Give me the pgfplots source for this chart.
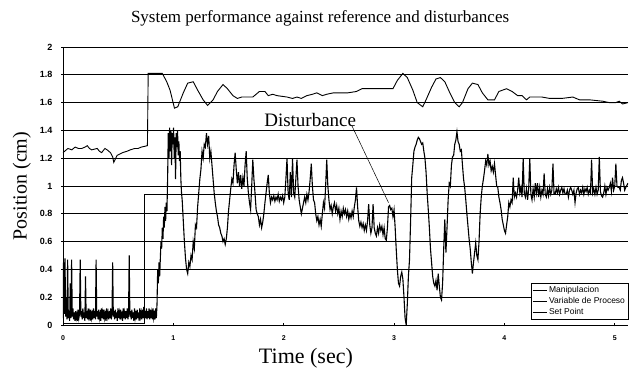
\documentclass[border=0pt]{standalone}
\usepackage{fontspec}
\setmainfont{Liberation Serif}
\newfontfamily\tickfont{Liberation Sans}
\usepackage{pgfplots}
\pgfplotsset{compat=1.18}
\begin{document}
\begin{tikzpicture}
\begin{axis}[
 name=ax,
 scale only axis,
 width=565pt, height=278pt,
 xmin=0, xmax=5.12, ymin=0, ymax=2,
 axis x line*=bottom, axis y line*=left,
 axis line style={black, line width=0.8pt, -},
 xtick={0,1,2,3,4,5},
 ytick={0,0.2,0.4,0.6,0.8,1,1.2,1.4,1.6,1.8,2},
 yticklabels={0,0.2,0.4,0.6,0.8,1,1.2,1.4,1.6,1.8,2},
 ymajorgrids,
 grid style={black, line width=0.8pt},
 tick style={black, line width=0.6pt},
 major tick length=3pt,
 tick align=center,
 /pgf/number format/assume math mode=true,
 yticklabel style={font=\tickfont\bfseries\fontsize{9}{10}\selectfont, inner sep=0pt, xshift=-9pt},
 xticklabel style={font=\tickfont\bfseries\fontsize{7}{8}\selectfont, inner sep=0pt, yshift=-9pt},
 title={System performance against reference and disturbances},
 title style={at={(axis description cs:0.455,1)}, anchor=base, yshift=18pt, font=\fontsize{17}{19}\selectfont},
 xlabel={Time (sec)},
 xlabel style={at={(axis description cs:0.43,0)}, anchor=base, yshift=-39pt, font=\fontsize{22}{24}\selectfont},
 ylabel={Position (cm)},
 ylabel style={at={(axis description cs:-0.073,0.5)}, anchor=center, font=\fontsize{20}{22}\selectfont},
 legend style={at={(rel axis cs:0.828,0.151)}, anchor=north west, draw=black, line width=0.5pt,
   font=\tickfont\fontsize{8.5}{9}\selectfont, inner sep=1pt, row sep=-0.5pt, fill=white},
 legend cell align=left,
 legend image code/.code={\draw[black, line width=1pt] (0pt,0pt) -- (14pt,0pt);},
]
% Manipulacion
\addplot[black, line width=0.9pt] coordinates {
(0.00,1.24) (0.045,1.27) (0.08,1.26) (0.11,1.28) (0.14,1.27) (0.17,1.27) (0.20,1.28) (0.22,1.29) (0.24,1.27) (0.26,1.26)
(0.31,1.27) (0.33,1.25) (0.35,1.24) (0.38,1.27) (0.40,1.26) (0.43,1.24) (0.45,1.21) (0.46,1.17) (0.49,1.22) (0.54,1.24)
(0.58,1.25) (0.61,1.26) (0.65,1.27) (0.68,1.27) (0.71,1.28) (0.765,1.29) (0.772,1.81) (0.85,1.81) (0.90,1.81)
(0.94,1.75) (0.97,1.69) (1.01,1.56) (1.04,1.57) (1.09,1.67) (1.13,1.74) (1.18,1.75) (1.22,1.69) (1.27,1.62)
(1.31,1.58) (1.36,1.62) (1.40,1.68) (1.45,1.73) (1.49,1.70) (1.54,1.65) (1.58,1.63) (1.62,1.64) (1.67,1.64)
(1.72,1.64) (1.78,1.68) (1.83,1.68) (1.86,1.65) (1.90,1.66) (1.94,1.65) (2.03,1.64) (2.08,1.63) (2.12,1.64) (2.16,1.63)
(2.21,1.65) (2.26,1.66) (2.30,1.67) (2.35,1.65) (2.39,1.66) (2.45,1.67) (2.51,1.67) (2.58,1.67) (2.66,1.68) (2.71,1.70)
(2.80,1.70) (2.87,1.70) (2.94,1.70) (2.99,1.70) (3.03,1.76) (3.08,1.81) (3.12,1.78) (3.17,1.69) (3.21,1.60)
(3.26,1.57) (3.29,1.62) (3.34,1.71) (3.38,1.77) (3.42,1.78) (3.46,1.75) (3.50,1.68) (3.55,1.60) (3.59,1.57)
(3.62,1.60) (3.67,1.70) (3.71,1.74) (3.76,1.73) (3.80,1.67) (3.85,1.62) (3.91,1.62) (3.95,1.68) (4.02,1.70)
(4.07,1.68) (4.12,1.65) (4.16,1.65) (4.20,1.62) (4.23,1.64) (4.29,1.64) (4.34,1.64) (4.41,1.63) (4.47,1.63)
(4.52,1.63) (4.62,1.64) (4.68,1.62) (4.77,1.62) (4.89,1.61) (4.95,1.60) (5.01,1.60) (5.04,1.61) (5.07,1.59) (5.12,1.60)
};
\addlegendentry{Manipulacion}
% Variable de Proceso
\addplot[black, line width=1.1pt] coordinates {
(0.000,0.05) (0.005,0.45) (0.012,0.08) (0.018,0.48) (0.024,0.06) (0.030,0.20) (0.036,0.04) (0.042,0.47)
(0.048,0.05) (0.055,0.10) (0.060,0.03) (0.066,0.30) (0.072,0.05) (0.078,0.47) (0.084,0.06) (0.090,0.12)
(0.096,0.04) (0.102,0.09) (0.108,0.03) (0.114,0.10) (0.120,0.05) (0.126,0.08) (0.132,0.03) (0.138,0.11)
(0.144,0.05) (0.150,0.08) (0.156,0.47) (0.162,0.06) (0.168,0.10) (0.174,0.04) (0.180,0.12) (0.186,0.05)
(0.192,0.09) (0.198,0.03) (0.204,0.35) (0.210,0.05) (0.216,0.10) (0.222,0.04) (0.228,0.12) (0.234,0.06)
(0.240,0.09) (0.246,0.03) (0.252,0.11) (0.258,0.05) (0.264,0.08) (0.270,0.04) (0.276,0.12) (0.282,0.05)
(0.288,0.10) (0.294,0.04) (0.300,0.47) (0.306,0.06) (0.312,0.10) (0.318,0.04) (0.324,0.11) (0.330,0.05)
(0.336,0.08) (0.342,0.03) (0.348,0.12) (0.354,0.05) (0.360,0.09) (0.366,0.04) (0.372,0.11) (0.378,0.05)
(0.384,0.08) (0.390,0.03) (0.396,0.12) (0.402,0.06) (0.408,0.09) (0.414,0.04) (0.420,0.10) (0.426,0.05)
(0.432,0.12) (0.438,0.04) (0.444,0.08) (0.450,0.45) (0.456,0.06) (0.462,0.10) (0.468,0.04) (0.474,0.11)
(0.480,0.05) (0.486,0.09) (0.492,0.03) (0.498,0.12) (0.504,0.05) (0.510,0.09) (0.516,0.04) (0.522,0.11)
(0.528,0.06) (0.534,0.08) (0.540,0.03) (0.546,0.12) (0.552,0.05) (0.558,0.09) (0.564,0.04) (0.570,0.10)
(0.576,0.05) (0.582,0.12) (0.588,0.04) (0.594,0.08) (0.600,0.50) (0.606,0.06) (0.612,0.10) (0.618,0.04)
(0.624,0.11) (0.630,0.05) (0.636,0.09) (0.642,0.03) (0.648,0.12) (0.654,0.05) (0.660,0.08) (0.666,0.04)
(0.672,0.11) (0.678,0.05) (0.684,0.09) (0.690,0.03) (0.696,0.12) (0.702,0.06) (0.708,0.09) (0.714,0.04)
(0.720,0.11) (0.726,0.05) (0.732,0.13) (0.738,0.04) (0.744,0.10) (0.750,0.05) (0.756,0.12) (0.762,0.04)
(0.768,0.10) (0.774,0.05) (0.780,0.12) (0.786,0.04) (0.792,0.11) (0.798,0.05) (0.804,0.09) (0.810,0.04)
(0.816,0.12) (0.822,0.05) (0.828,0.08) (0.834,0.04) (0.840,0.12) (0.846,0.05) (0.852,0.15) (0.858,0.40)
(0.864,0.30) (0.870,0.45) (0.876,0.35) (0.882,0.48) (0.888,0.60) (0.894,0.55) (0.900,0.70) (0.906,0.62)
(0.912,0.78) (0.918,0.70) (0.924,0.85) (0.930,0.75) (0.936,0.88) (0.942,0.82) (0.948,1.05) (0.954,1.38)
(0.960,1.20) (0.966,1.42) (0.972,1.25) (0.978,1.40) (0.984,1.15) (0.990,1.38) (0.996,1.30) (1.002,1.42)
(1.008,1.20) (1.014,1.35) (1.020,1.05) (1.026,1.38) (1.032,1.28) (1.038,1.40) (1.044,1.22) (1.050,1.32)
(1.056,1.18) (1.062,1.25) (1.068,1.05) (1.074,0.95) (1.080,0.90) (1.090,0.75) (1.100,0.60) (1.110,0.48)
(1.120,0.40) (1.130,0.37) (1.140,0.45) (1.150,0.42) (1.160,0.50) (1.170,0.47) (1.180,0.60) (1.190,0.55)
(1.200,0.72) (1.210,0.70) (1.220,0.85) (1.230,0.95) (1.240,1.05) (1.250,1.12) (1.260,1.25) (1.270,1.20)
(1.280,1.30) (1.290,1.28) (1.300,1.38) (1.310,1.30) (1.320,1.36) (1.330,1.20) (1.340,1.25) (1.350,1.15)
(1.360,1.05) (1.370,0.95) (1.380,0.88) (1.390,0.82) (1.400,0.78) (1.410,0.72) (1.420,0.70) (1.430,0.66)
(1.440,0.64) (1.450,0.60) (1.460,0.62) (1.470,0.58) (1.480,0.62) (1.490,0.70) (1.500,0.82) (1.510,0.90)
(1.520,0.98) (1.530,1.05) (1.540,1.02) (1.550,1.15) (1.560,1.24) (1.570,1.12) (1.580,1.02) (1.590,1.10)
(1.600,1.00) (1.610,1.08) (1.620,0.98) (1.630,1.06) (1.640,1.00) (1.650,1.15) (1.660,1.25) (1.670,1.05)
(1.680,0.95) (1.690,0.88) (1.700,0.83) (1.710,1.00) (1.720,1.19) (1.730,1.05) (1.740,0.95) (1.750,0.83)
(1.760,0.80) (1.770,0.78) (1.780,0.72) (1.790,0.76) (1.800,0.70) (1.810,0.74) (1.820,0.80) (1.830,0.88)
(1.840,0.95) (1.850,1.02) (1.860,1.08) (1.870,0.95) (1.880,0.88) (1.890,0.92) (1.900,0.90) (1.910,0.93)
(1.920,0.89) (1.930,0.92) (1.940,0.90) (1.950,0.94) (1.960,0.89) (1.970,0.92) (1.980,0.90) (1.990,0.93)
(2.000,0.88) (2.010,0.92) (2.020,1.05) (2.030,1.20) (2.040,0.95) (2.050,0.90) (2.060,1.10) (2.070,0.92)
(2.080,1.20) (2.090,0.95) (2.100,0.92) (2.110,1.05) (2.120,1.19) (2.130,1.00) (2.140,0.90) (2.150,0.85)
(2.160,0.80) (2.170,0.84) (2.180,0.88) (2.190,0.92) (2.200,0.88) (2.210,0.94) (2.220,0.90) (2.230,0.96)
(2.240,1.05) (2.250,1.16) (2.260,1.00) (2.270,0.90) (2.280,0.88) (2.290,0.80) (2.300,0.75) (2.310,0.78)
(2.320,0.72) (2.330,0.76) (2.340,0.71) (2.350,0.80) (2.360,0.88) (2.370,0.84) (2.380,1.00) (2.390,1.19)
(2.400,1.00) (2.410,0.90) (2.420,0.83) (2.430,0.86) (2.440,0.80) (2.450,0.85) (2.460,0.88) (2.470,0.82)
(2.480,0.86) (2.490,0.80) (2.500,0.84) (2.510,0.76) (2.520,0.82) (2.530,0.78) (2.540,0.84) (2.550,0.80)
(2.560,0.83) (2.570,0.78) (2.580,0.82) (2.590,0.76) (2.600,0.80) (2.610,0.77) (2.620,0.82) (2.630,0.78)
(2.640,0.85) (2.650,0.90) (2.660,0.99) (2.670,0.85) (2.680,0.75) (2.690,0.71) (2.700,0.74) (2.710,0.70)
(2.720,0.73) (2.730,0.68) (2.740,0.72) (2.750,0.68) (2.760,0.75) (2.770,0.87) (2.780,0.72) (2.790,0.66)
(2.800,0.70) (2.810,0.87) (2.820,0.70) (2.830,0.66) (2.840,0.64) (2.850,0.70) (2.860,0.66) (2.870,0.72)
(2.880,0.68) (2.890,0.71) (2.900,0.65) (2.910,0.70) (2.920,0.62) (2.930,0.61) (2.940,0.70) (2.950,0.85)
(2.960,0.86) (2.970,0.83) (2.980,0.84) (2.990,0.78) (3.000,0.83) (3.010,0.70) (3.020,0.54) (3.030,0.40)
(3.040,0.30) (3.050,0.28) (3.060,0.35) (3.070,0.38) (3.080,0.33) (3.090,0.20) (3.100,0.05) (3.110,0.00)
(3.120,0.15) (3.130,0.35) (3.140,0.47) (3.150,0.75) (3.160,1.06) (3.170,1.15) (3.180,1.25) (3.190,1.28)
(3.200,1.30) (3.210,1.33) (3.220,1.35) (3.230,1.34) (3.240,1.32) (3.250,1.30) (3.260,1.31) (3.270,1.25)
(3.280,1.20) (3.290,1.10) (3.300,0.95) (3.310,0.83) (3.320,0.70) (3.330,0.55) (3.340,0.45) (3.350,0.35)
(3.360,0.30) (3.370,0.28) (3.380,0.32) (3.390,0.25) (3.400,0.37) (3.410,0.28) (3.420,0.20) (3.430,0.18)
(3.440,0.30) (3.450,0.55) (3.460,0.76) (3.470,0.52) (3.480,0.70) (3.490,0.90) (3.500,1.02) (3.510,1.00)
(3.520,1.15) (3.530,1.21) (3.540,1.22) (3.550,1.30) (3.560,1.33) (3.570,1.39) (3.580,1.32) (3.590,1.30)
(3.600,1.25) (3.610,1.26) (3.620,1.15) (3.630,1.05) (3.640,0.99) (3.650,0.90) (3.660,0.80) (3.670,0.71)
(3.680,0.62) (3.690,0.55) (3.700,0.45) (3.710,0.37) (3.720,0.45) (3.730,0.52) (3.740,0.59) (3.750,0.50)
(3.760,0.47) (3.770,0.60) (3.780,0.80) (3.790,0.92) (3.800,1.00) (3.810,1.05) (3.820,1.11) (3.830,1.18)
(3.840,1.15) (3.850,1.23) (3.860,1.15) (3.870,1.18) (3.880,1.11) (3.890,1.14) (3.900,1.10) (3.910,1.16)
(3.920,1.08) (3.930,1.00) (3.940,0.99) (3.950,0.92) (3.960,0.88) (3.970,0.83) (3.980,0.76) (3.990,0.72)
(4.000,0.68) (4.010,0.66) (4.020,0.72) (4.030,0.78) (4.040,0.88) (4.050,0.85) (4.060,0.90) (4.070,0.88)
(4.080,1.06) (4.090,0.92) (4.100,0.95) (4.110,0.92) (4.120,0.97) (4.130,1.06) (4.140,0.95) (4.150,0.99)
(4.160,0.92) (4.170,1.20) (4.180,0.95) (4.190,0.92) (4.200,0.98) (4.210,0.90) (4.220,0.98) (4.230,1.20)
(4.240,0.94) (4.250,0.90) (4.260,0.98) (4.270,0.92) (4.280,1.02) (4.290,0.95) (4.300,1.02) (4.310,0.92)
(4.320,0.99) (4.330,0.92) (4.340,0.97) (4.350,0.94) (4.360,1.09) (4.370,0.94) (4.380,0.92) (4.390,0.98)
(4.400,0.93) (4.410,0.99) (4.420,0.94) (4.430,0.97) (4.440,1.16) (4.450,0.94) (4.460,0.94) (4.470,0.98)
(4.480,0.95) (4.490,0.99) (4.500,0.94) (4.510,0.97) (4.520,0.99) (4.530,0.95) (4.540,0.98) (4.550,0.94)
(4.560,0.94) (4.570,0.97) (4.580,0.92) (4.590,0.97) (4.600,0.99) (4.610,0.97) (4.620,0.94) (4.630,0.97)
(4.640,0.88) (4.650,0.95) (4.660,0.98) (4.670,0.99) (4.680,0.94) (4.690,0.97) (4.700,0.95) (4.710,0.99)
(4.720,0.94) (4.730,0.98) (4.740,0.96) (4.750,0.99) (4.760,0.94) (4.770,0.97) (4.780,0.95) (4.790,1.19)
(4.800,0.95) (4.810,0.98) (4.820,0.94) (4.830,0.99) (4.840,0.94) (4.850,0.97) (4.860,1.21) (4.870,0.96)
(4.880,0.93) (4.890,0.92) (4.900,0.95) (4.910,1.00) (4.920,0.94) (4.930,0.99) (4.940,0.97) (4.950,0.99)
(4.960,1.02) (4.970,0.96) (4.980,1.06) (4.990,0.97) (5.000,1.00) (5.010,1.16) (5.020,1.00) (5.030,0.99)
(5.040,0.99) (5.050,0.97) (5.060,1.04) (5.070,1.06) (5.080,1.02) (5.090,0.97) (5.100,0.99) (5.120,1.02)
};
\addlegendentry{Variable de Proceso}
% Set Point
\addplot[black, line width=0.8pt] coordinates {
(0,0.01) (0.74,0.01) (0.74,0.94) (5.12,0.94)
};
\addlegendentry{Set Point}
\draw[black, line width=0.5pt] (axis cs:2.62,1.43) -- (axis cs:2.95,0.88);
\node[font=\fontsize{19}{20}\selectfont, inner sep=0pt] at (axis cs:2.24,1.475) {Disturbance};
\end{axis}
\pgfresetboundingbox
\path[use as bounding box] ([xshift=-63pt,yshift=-44pt]ax.south west) rectangle ([xshift=2pt,yshift=47pt]ax.north east);
\end{tikzpicture}
\end{document}
